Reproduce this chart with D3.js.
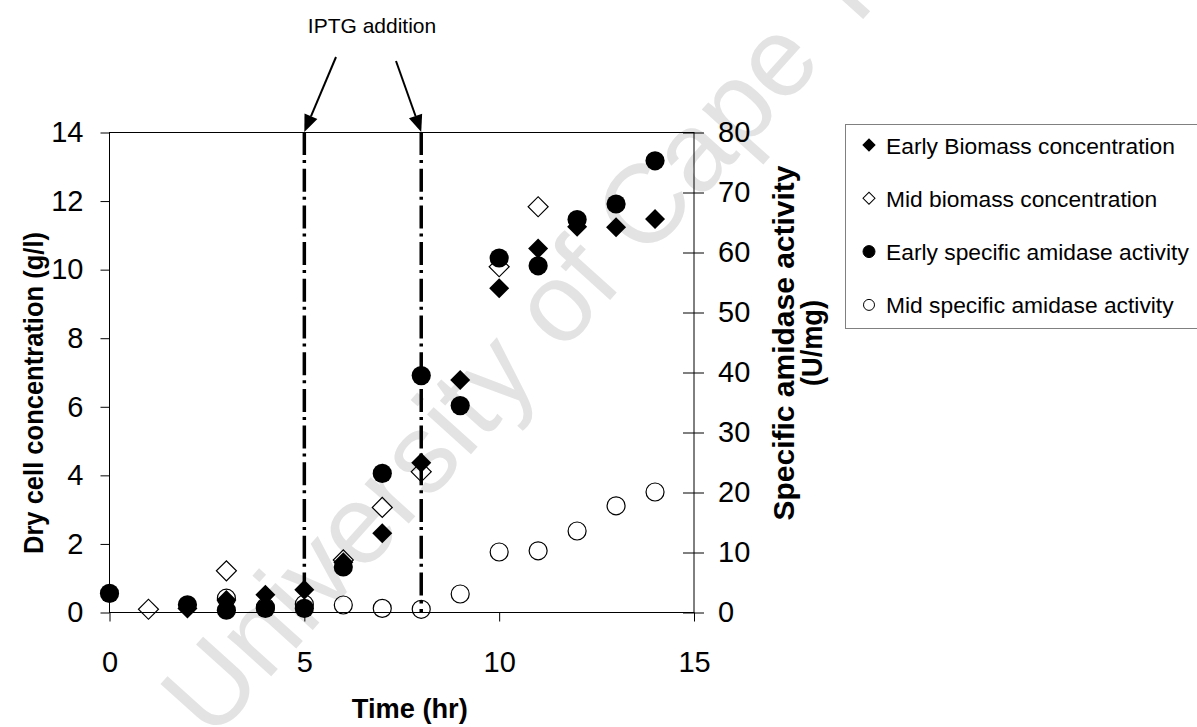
<!DOCTYPE html>
<html>
<head>
<meta charset="utf-8">
<script src="https://cdn.jsdelivr.net/npm/d3@7"></script>
<style>
    body { margin: 0; background: #fff; }
    svg text { font-family: "Liberation Sans", Arial, sans-serif; }
</style>
</head>
<body>
<div id="chart"></div>
<script>
//------------------------------DATA------------------------------
// sampling times (hr) and readings for each series
var earlyBiomassTime = [2, 3, 4, 5, 6, 7, 8, 9, 10, 11, 12, 13, 14];
var earlyBiomass = [0.1, 0.35, 0.5, 0.65, 1.45, 2.3, 4.35, 6.77, 9.44, 10.6, 11.24, 11.22, 11.46]; // g/l

var midBiomassTime = [1, 3, 6, 7, 8, 10, 11];
var midBiomass = [0.08, 1.2, 1.52, 3.05, 4.09, 10.07, 11.82]; // g/l

var earlyActivityTime = [0, 2, 3, 4, 5, 6, 7, 8, 9, 10, 11, 12, 13, 14];
var earlyActivity = [3.1, 1.2, 0.3, 0.6, 0.6, 7.5, 23.1, 39.4, 34.4, 59, 57.7, 65.4, 68, 75.2]; // U/mg

var midActivityTime = [3, 4, 5, 6, 7, 8, 9, 10, 11, 12, 13, 14];
var midActivity = [2.3, 0.8, 1.3, 1.17, 0.6, 0.45, 3.0, 10, 10.2, 13.5, 17.7, 20]; // U/mg

// IPTG was added at these times
var iptgTimes = [5, 8];

var xTicks = [0, 5, 10, 15];
var leftTicks = [0, 2, 4, 6, 8, 10, 12, 14];
var rightTicks = [0, 10, 20, 30, 40, 50, 60, 70, 80];

var legendLabels = ["Early Biomass concentration", "Mid biomass concentration",
                    "Early specific amidase activity", "Mid specific amidase activity"];


function init() {
    var w = 1197;
    var h = 727;
    var plot = {left: 109.5, right: 694, top: 132, bottom: 612};

    var svg = d3.select("#chart")
                .append("svg")
                .attr("width", w)
                .attr("height", h);

    //faint watermark behind everything
    svg.append("text")
        .attr("transform", "translate(212,742) rotate(-48)")
        .attr("font-size", 112)
        .attr("fill", "#e3e3e3")
        .text("University of Cape Town");

    var xScale = d3.scaleLinear().domain([0, 15]).range([plot.left, plot.right]);
    var yLeft = d3.scaleLinear().domain([0, 14]).range([plot.bottom, plot.top]);
    var yRight = d3.scaleLinear().domain([0, 80]).range([plot.bottom, plot.top]);

    //plot frame
    svg.append("rect")
        .attr("x", plot.left)
        .attr("y", plot.top + 0.5)
        .attr("width", plot.right - plot.left)
        .attr("height", plot.bottom - plot.top)
        .attr("fill", "none")
        .attr("stroke", "#000")
        .attr("stroke-width", 1);

    //axes
    var xAxis = d3.axisBottom(xScale).tickValues(xTicks).tickSize(9).tickPadding(30);
    svg.append("g")
        .attr("transform", "translate(0," + (plot.bottom + 0.5) + ")")
        .call(xAxis);

    var leftAxis = d3.axisLeft(yLeft).tickValues(leftTicks).tickSize(9).tickPadding(17);
    svg.append("g")
        .attr("transform", "translate(" + plot.left + ",0.5)")
        .call(leftAxis);

    var rightAxis = d3.axisRight(yRight).tickValues(rightTicks).tickSize(10).tickPadding(14);
    var gRight = svg.append("g")
        .attr("transform", "translate(" + plot.right + ",0.5)")
        .call(rightAxis);
    gRight.selectAll(".tick line").attr("x1", -11); // ticks cross the axis

    svg.selectAll(".domain").remove();
    svg.selectAll(".tick line").attr("stroke", "#000");
    svg.selectAll(".tick text")
        .attr("fill", "#000")
        .attr("font-size", "29px")
        .attr("font-family", "Liberation Sans, Arial, sans-serif");

    //axis titles (condensed a little, like the original bold face)
    function title(sel, size, len) {
        sel.attr("text-anchor", "middle")
            .attr("font-weight", "bold")
            .attr("font-size", size)
            .attr("textLength", len)
            .attr("lengthAdjust", "spacingAndGlyphs");
        return sel;
    }

    svg.append("text")
        .attr("x", (plot.left + plot.right) / 2 + 8)
        .attr("y", 718)
        .call(title, 27, 116)
        .text("Time (hr)");

    svg.append("text")
        .attr("transform", "translate(43,393) rotate(-90)")
        .call(title, 28, 322)
        .text("Dry cell concentration (g/l)");

    svg.append("text")
        .attr("transform", "translate(794,343) rotate(-90)")
        .call(title, 29, 355)
        .text("Specific amidase activity");

    svg.append("text")
        .attr("transform", "translate(822,343) rotate(-90)")
        .call(title, 29, 86)
        .text("(U/mg)");

    //IPTG addition markers: dash-dot verticals
    svg.selectAll(".iptg")
        .data(iptgTimes)
        .enter()
        .append("line")
        .attr("class", "iptg")
        .attr("x1", function(d) { return xScale(d); })
        .attr("x2", function(d) { return xScale(d); })
        .attr("y1", plot.top)
        .attr("y2", plot.bottom)
        .attr("stroke", "#000")
        .attr("stroke-width", 3.5)
        .attr("stroke-dasharray", "23,5,3,5.7");

    //label and arrows pointing at the two lines
    var labelX = 372;
    svg.append("text")
        .attr("x", labelX)
        .attr("y", 33)
        .attr("text-anchor", "middle")
        .attr("font-size", 21)
        .text("IPTG addition");

    var arrowStarts = [[labelX - 36, 57], [labelX + 24, 61]];
    iptgTimes.forEach(function(t, i) {
        var x0 = arrowStarts[i][0], y0 = arrowStarts[i][1];
        var x1 = xScale(t), y1 = plot.top;
        var dx = x1 - x0, dy = y1 - y0;
        var len = Math.sqrt(dx * dx + dy * dy);
        var ux = dx / len, uy = dy / len;
        var headL = 17, headW = 7;
        var bx = x1 - ux * headL, by = y1 - uy * headL;
        svg.append("line")
            .attr("x1", x0).attr("y1", y0)
            .attr("x2", bx).attr("y2", by)
            .attr("stroke", "#000")
            .attr("stroke-width", 2);
        svg.append("polygon")
            .attr("points", [
                [x1, y1],
                [bx - uy * headW, by + ux * headW],
                [bx + uy * headW, by - ux * headW]
            ].map(function(p) { return p.join(","); }).join(" "))
            .attr("fill", "#000");
    });

    //markers
    var diamond = d3.symbol().type(d3.symbolSquare).size(200);

    function pairs(times, vals) {
        return times.map(function(t, i) { return [t, vals[i]]; });
    }

    svg.selectAll(".midBio")
        .data(pairs(midBiomassTime, midBiomass))
        .enter()
        .append("path")
        .attr("class", "midBio")
        .attr("d", diamond)
        .attr("transform", function(d) {
            return "translate(" + xScale(d[0]) + "," + yLeft(d[1]) + ") rotate(45)";
        })
        .attr("fill", "none")
        .attr("stroke", "#000")
        .attr("stroke-width", 1.2);

    svg.selectAll(".earlyBio")
        .data(pairs(earlyBiomassTime, earlyBiomass))
        .enter()
        .append("path")
        .attr("class", "earlyBio")
        .attr("d", diamond)
        .attr("transform", function(d) {
            return "translate(" + xScale(d[0]) + "," + yLeft(d[1]) + ") rotate(45)";
        })
        .attr("fill", "#000");

    svg.selectAll(".midAct")
        .data(pairs(midActivityTime, midActivity))
        .enter()
        .append("circle")
        .attr("class", "midAct")
        .attr("cx", function(d) { return xScale(d[0]); })
        .attr("cy", function(d) { return yRight(d[1]); })
        .attr("r", 9)
        .attr("fill", "none")
        .attr("stroke", "#000")
        .attr("stroke-width", 1.2);

    svg.selectAll(".earlyAct")
        .data(pairs(earlyActivityTime, earlyActivity))
        .enter()
        .append("circle")
        .attr("class", "earlyAct")
        .attr("cx", function(d) { return xScale(d[0]); })
        .attr("cy", function(d) { return yRight(d[1]); })
        .attr("r", 9.6)
        .attr("fill", "#000");

    //legend (box runs off the right edge)
    var legend = svg.append("g").attr("transform", "translate(845,124)");
    legend.append("rect")
        .attr("x", 0.5).attr("y", 0.5)
        .attr("width", 400).attr("height", 204)
        .attr("fill", "#fff")
        .attr("stroke", "#808080")
        .attr("stroke-width", 1);

    var smallDiamond = d3.symbol().type(d3.symbolSquare).size(72);
    var rows = legend.selectAll(".row")
        .data(legendLabels)
        .enter()
        .append("g")
        .attr("class", "row")
        .attr("transform", function(d, i) { return "translate(0," + (21 + i * 53.3) + ")"; });

    rows.each(function(d, i) {
        var g = d3.select(this);
        if (i < 2) {
            g.append("path")
                .attr("d", smallDiamond)
                .attr("transform", "translate(24,0) rotate(45)")
                .attr("fill", i == 0 ? "#000" : "#fff")
                .attr("stroke", "#000")
                .attr("stroke-width", 1);
        } else {
            g.append("circle")
                .attr("cx", 24).attr("cy", 0)
                .attr("r", i == 2 ? 6 : 5.5)
                .attr("fill", i == 2 ? "#000" : "#fff")
                .attr("stroke", "#000")
                .attr("stroke-width", 1);
        }
        g.append("text")
            .attr("x", 41)
            .attr("y", 8.5)
            .attr("font-size", 22.8)
            .text(d);
    });
}

window.onload = init;
</script>
</body>
</html>
